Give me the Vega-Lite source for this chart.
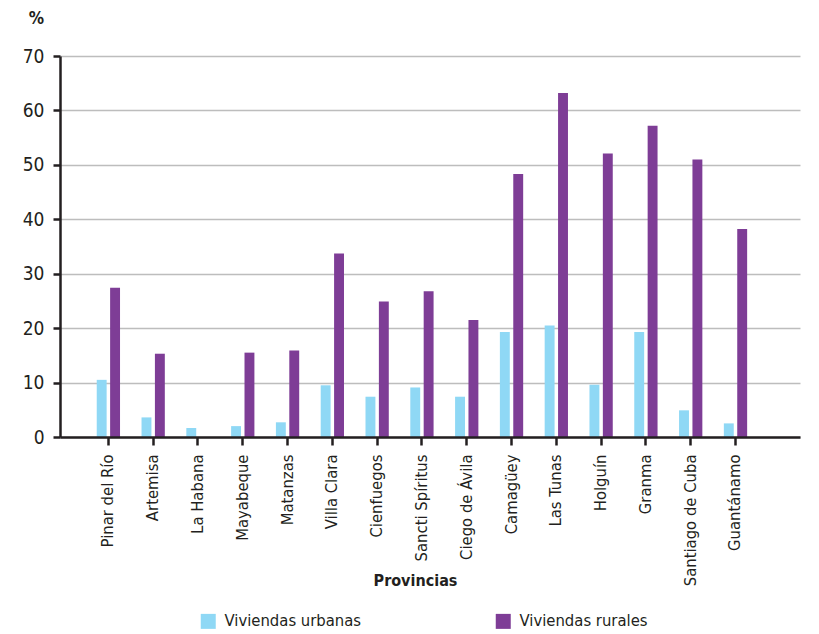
{
  "$schema": "https://vega.github.io/schema/vega-lite/v6.json",
  "width": 740,
  "height": 381,
  "autosize": {"type": "none"},
  "padding": {"left": 60, "top": 56, "right": 19, "bottom": 197},
  "background": "white",
  "config": {
    "font": "DejaVu Sans Condensed, sans-serif",
    "view": {"stroke": null},
    "axis": {"labelColor": "#231f20", "titleColor": "#231f20", "labelFont": "DejaVu Sans Condensed, sans-serif", "titleFont": "DejaVu Sans Condensed, sans-serif"},
    "legend": {"labelFont": "DejaVu Sans Condensed, sans-serif"}
  },
  "data": {
    "values": [
      {"provincia": "Pinar del Río", "tipo": "Viviendas urbanas", "valor": 10.5},
      {"provincia": "Pinar del Río", "tipo": "Viviendas rurales", "valor": 27.4},
      {"provincia": "Artemisa", "tipo": "Viviendas urbanas", "valor": 3.6},
      {"provincia": "Artemisa", "tipo": "Viviendas rurales", "valor": 15.3},
      {"provincia": "La Habana", "tipo": "Viviendas urbanas", "valor": 1.65},
      {"provincia": "La Habana", "tipo": "Viviendas rurales", "valor": 0},
      {"provincia": "Mayabeque", "tipo": "Viviendas urbanas", "valor": 2.0},
      {"provincia": "Mayabeque", "tipo": "Viviendas rurales", "valor": 15.5},
      {"provincia": "Matanzas", "tipo": "Viviendas urbanas", "valor": 2.7},
      {"provincia": "Matanzas", "tipo": "Viviendas rurales", "valor": 15.9},
      {"provincia": "Villa Clara", "tipo": "Viviendas urbanas", "valor": 9.5},
      {"provincia": "Villa Clara", "tipo": "Viviendas rurales", "valor": 33.7},
      {"provincia": "Cienfuegos", "tipo": "Viviendas urbanas", "valor": 7.4},
      {"provincia": "Cienfuegos", "tipo": "Viviendas rurales", "valor": 24.9},
      {"provincia": "Sancti Spíritus", "tipo": "Viviendas urbanas", "valor": 9.1},
      {"provincia": "Sancti Spíritus", "tipo": "Viviendas rurales", "valor": 26.8},
      {"provincia": "Ciego de Ávila", "tipo": "Viviendas urbanas", "valor": 7.4},
      {"provincia": "Ciego de Ávila", "tipo": "Viviendas rurales", "valor": 21.5},
      {"provincia": "Camagüey", "tipo": "Viviendas urbanas", "valor": 19.3},
      {"provincia": "Camagüey", "tipo": "Viviendas rurales", "valor": 48.3},
      {"provincia": "Las Tunas", "tipo": "Viviendas urbanas", "valor": 20.5},
      {"provincia": "Las Tunas", "tipo": "Viviendas rurales", "valor": 63.2},
      {"provincia": "Holguín", "tipo": "Viviendas urbanas", "valor": 9.6},
      {"provincia": "Holguín", "tipo": "Viviendas rurales", "valor": 52.1},
      {"provincia": "Granma", "tipo": "Viviendas urbanas", "valor": 19.3},
      {"provincia": "Granma", "tipo": "Viviendas rurales", "valor": 57.2},
      {"provincia": "Santiago de Cuba", "tipo": "Viviendas urbanas", "valor": 4.9},
      {"provincia": "Santiago de Cuba", "tipo": "Viviendas rurales", "valor": 51.0},
      {"provincia": "Guantánamo", "tipo": "Viviendas urbanas", "valor": 2.5},
      {"provincia": "Guantánamo", "tipo": "Viviendas rurales", "valor": 38.2}
    ]
  },
  "mark": {"type": "bar"},
  "encoding": {
    "x": {
      "field": "provincia",
      "type": "nominal",
      "sort": null,
      "scale": {"paddingInner": 0.48, "paddingOuter": 1.14, "align": 0.41},
      "axis": {
        "zindex": 2,
        "domainColor": "#231f20",
        "domainWidth": 2.5,
        "tickColor": "#231f20",
        "tickWidth": 2.5,
        "tickSize": 8,
        "labelAngle": -90,
        "labelPadding": 9,
        "labelFontSize": 16.5,
        "labelBaseline": "middle",
        "title": "Provincias",
        "titleFontSize": 16,
        "titleFontWeight": "bold",
        "titleX": 355,
        "titleY": 143,
        "titleBaseline": "middle"
      }
    },
    "xOffset": {
      "field": "tipo",
      "type": "nominal",
      "scale": {"domain": ["Viviendas urbanas", "Viviendas rurales"], "paddingInner": 0.26, "paddingOuter": 0}
    },
    "y": {
      "field": "valor",
      "type": "quantitative",
      "scale": {"domain": [0, 70], "nice": false},
      "axis": {
        "values": [0, 10, 20, 30, 40, 50, 60, 70],
        "domain": true,
        "domainColor": "#231f20",
        "domainWidth": 2.5,
        "tickColor": "#231f20",
        "tickWidth": 2.5,
        "tickSize": 7,
        "grid": true,
        "gridColor": "#bdbdbd",
        "gridWidth": 1.5,
        "labelFontSize": 19,
        "labelPadding": 9,
        "title": "%",
        "titleAngle": 0,
        "titleX": -24,
        "titleY": -38,
        "titleFontSize": 17,
        "titleFontWeight": "bold",
        "titleAlign": "center",
        "titleBaseline": "middle"
      }
    },
    "color": {
      "field": "tipo",
      "type": "nominal",
      "scale": {"domain": ["Viviendas urbanas", "Viviendas rurales"], "range": ["#8fd8f5", "#7e3d96"]},
      "legend": {
        "title": null,
        "orient": "none",
        "legendX": 140,
        "legendY": 557,
        "direction": "horizontal",
        "columns": 2,
        "columnPadding": 133,
        "symbolType": "square",
        "symbolSize": 225,
        "symbolStrokeWidth": 0,
        "symbolOpacity": 1,
        "labelFontSize": 16.5,
        "labelColor": "#231f20",
        "labelOffset": 8,
        "labelLimit": 300
      }
    }
  }
}
